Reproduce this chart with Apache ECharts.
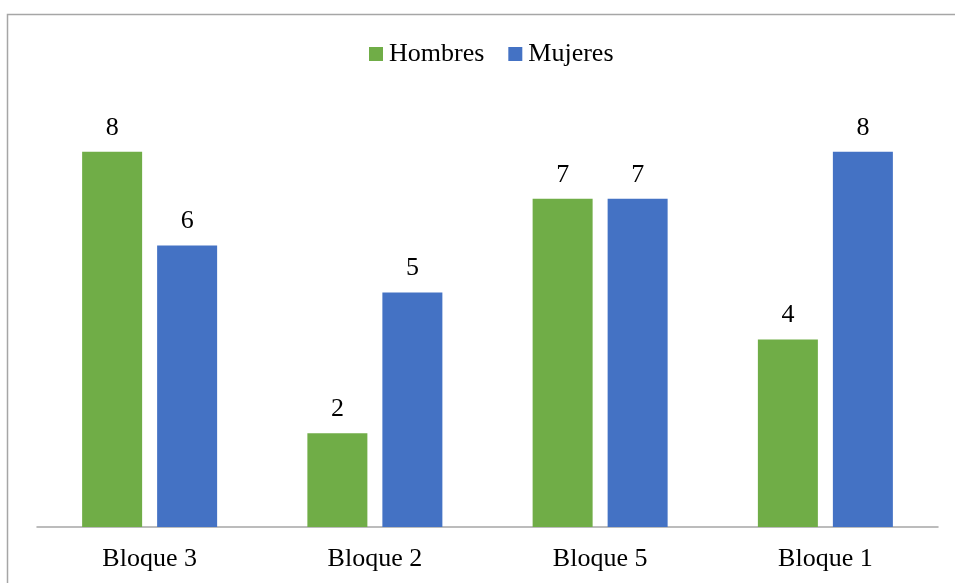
<!DOCTYPE html>
<html>
<head>
<meta charset="utf-8">
<script src="https://cdn.jsdelivr.net/npm/echarts@6/dist/echarts.min.js"></script>
<style>
html,body{margin:0;padding:0;background:#fff;}
#c{width:955px;height:583px;}
</style>
</head>
<body>
<div id="c"></div>
<script>
const categories = ['Bloque 3', 'Bloque 2', 'Bloque 5', 'Bloque 1'];
const hombres = [8, 2, 7, 4];
const mujeres = [6, 5, 7, 8];
const seriesNames = ['Hombres', 'Mujeres'];

const font = '"Liberation Serif", "Times New Roman", serif';
const chart = echarts.init(document.getElementById('c'), null, {renderer: 'canvas'});
const labelCfg = {show: true, position: 'top', distance: 11, color: '#000', fontFamily: font, fontSize: 26};
chart.setOption({
  animation: false,
  backgroundColor: '#fff',
  graphic: [{
    type: 'rect', silent: true, z: -1,
    shape: {x: 7.5, y: 14.5, width: 1000, height: 700},
    style: {fill: 'none', stroke: '#a6a6a6', lineWidth: 1.5}
  }],
  legend: {
    top: 36, left: 364,
    itemWidth: 14, itemHeight: 14, itemGap: 24,
    icon: 'rect',
    textStyle: {fontFamily: font, fontSize: 26, color: '#000', padding: [0, 0, 0, 1]},
    data: seriesNames
  },
  grid: {left: 37, right: 17, top: 58, bottom: 56, containLabel: false},
  xAxis: {
    type: 'category', data: categories,
    axisLine: {lineStyle: {color: '#a6a6a6', width: 1.5}},
    axisTick: {show: false},
    axisLabel: {fontFamily: font, fontSize: 26, color: '#000', margin: 19}
  },
  yAxis: {
    type: 'value', min: 0, max: 10, interval: 1,
    show: false, splitLine: {show: false}
  },
  series: [
    {name: seriesNames[0], type: 'bar', data: hombres, barWidth: 60, barGap: '25%',
     itemStyle: {color: '#70ad47'}, label: labelCfg},
    {name: seriesNames[1], type: 'bar', data: mujeres, barWidth: 60, barGap: '25%',
     itemStyle: {color: '#4472c4'}, label: labelCfg}
  ]
});
</script>
</body>
</html>
